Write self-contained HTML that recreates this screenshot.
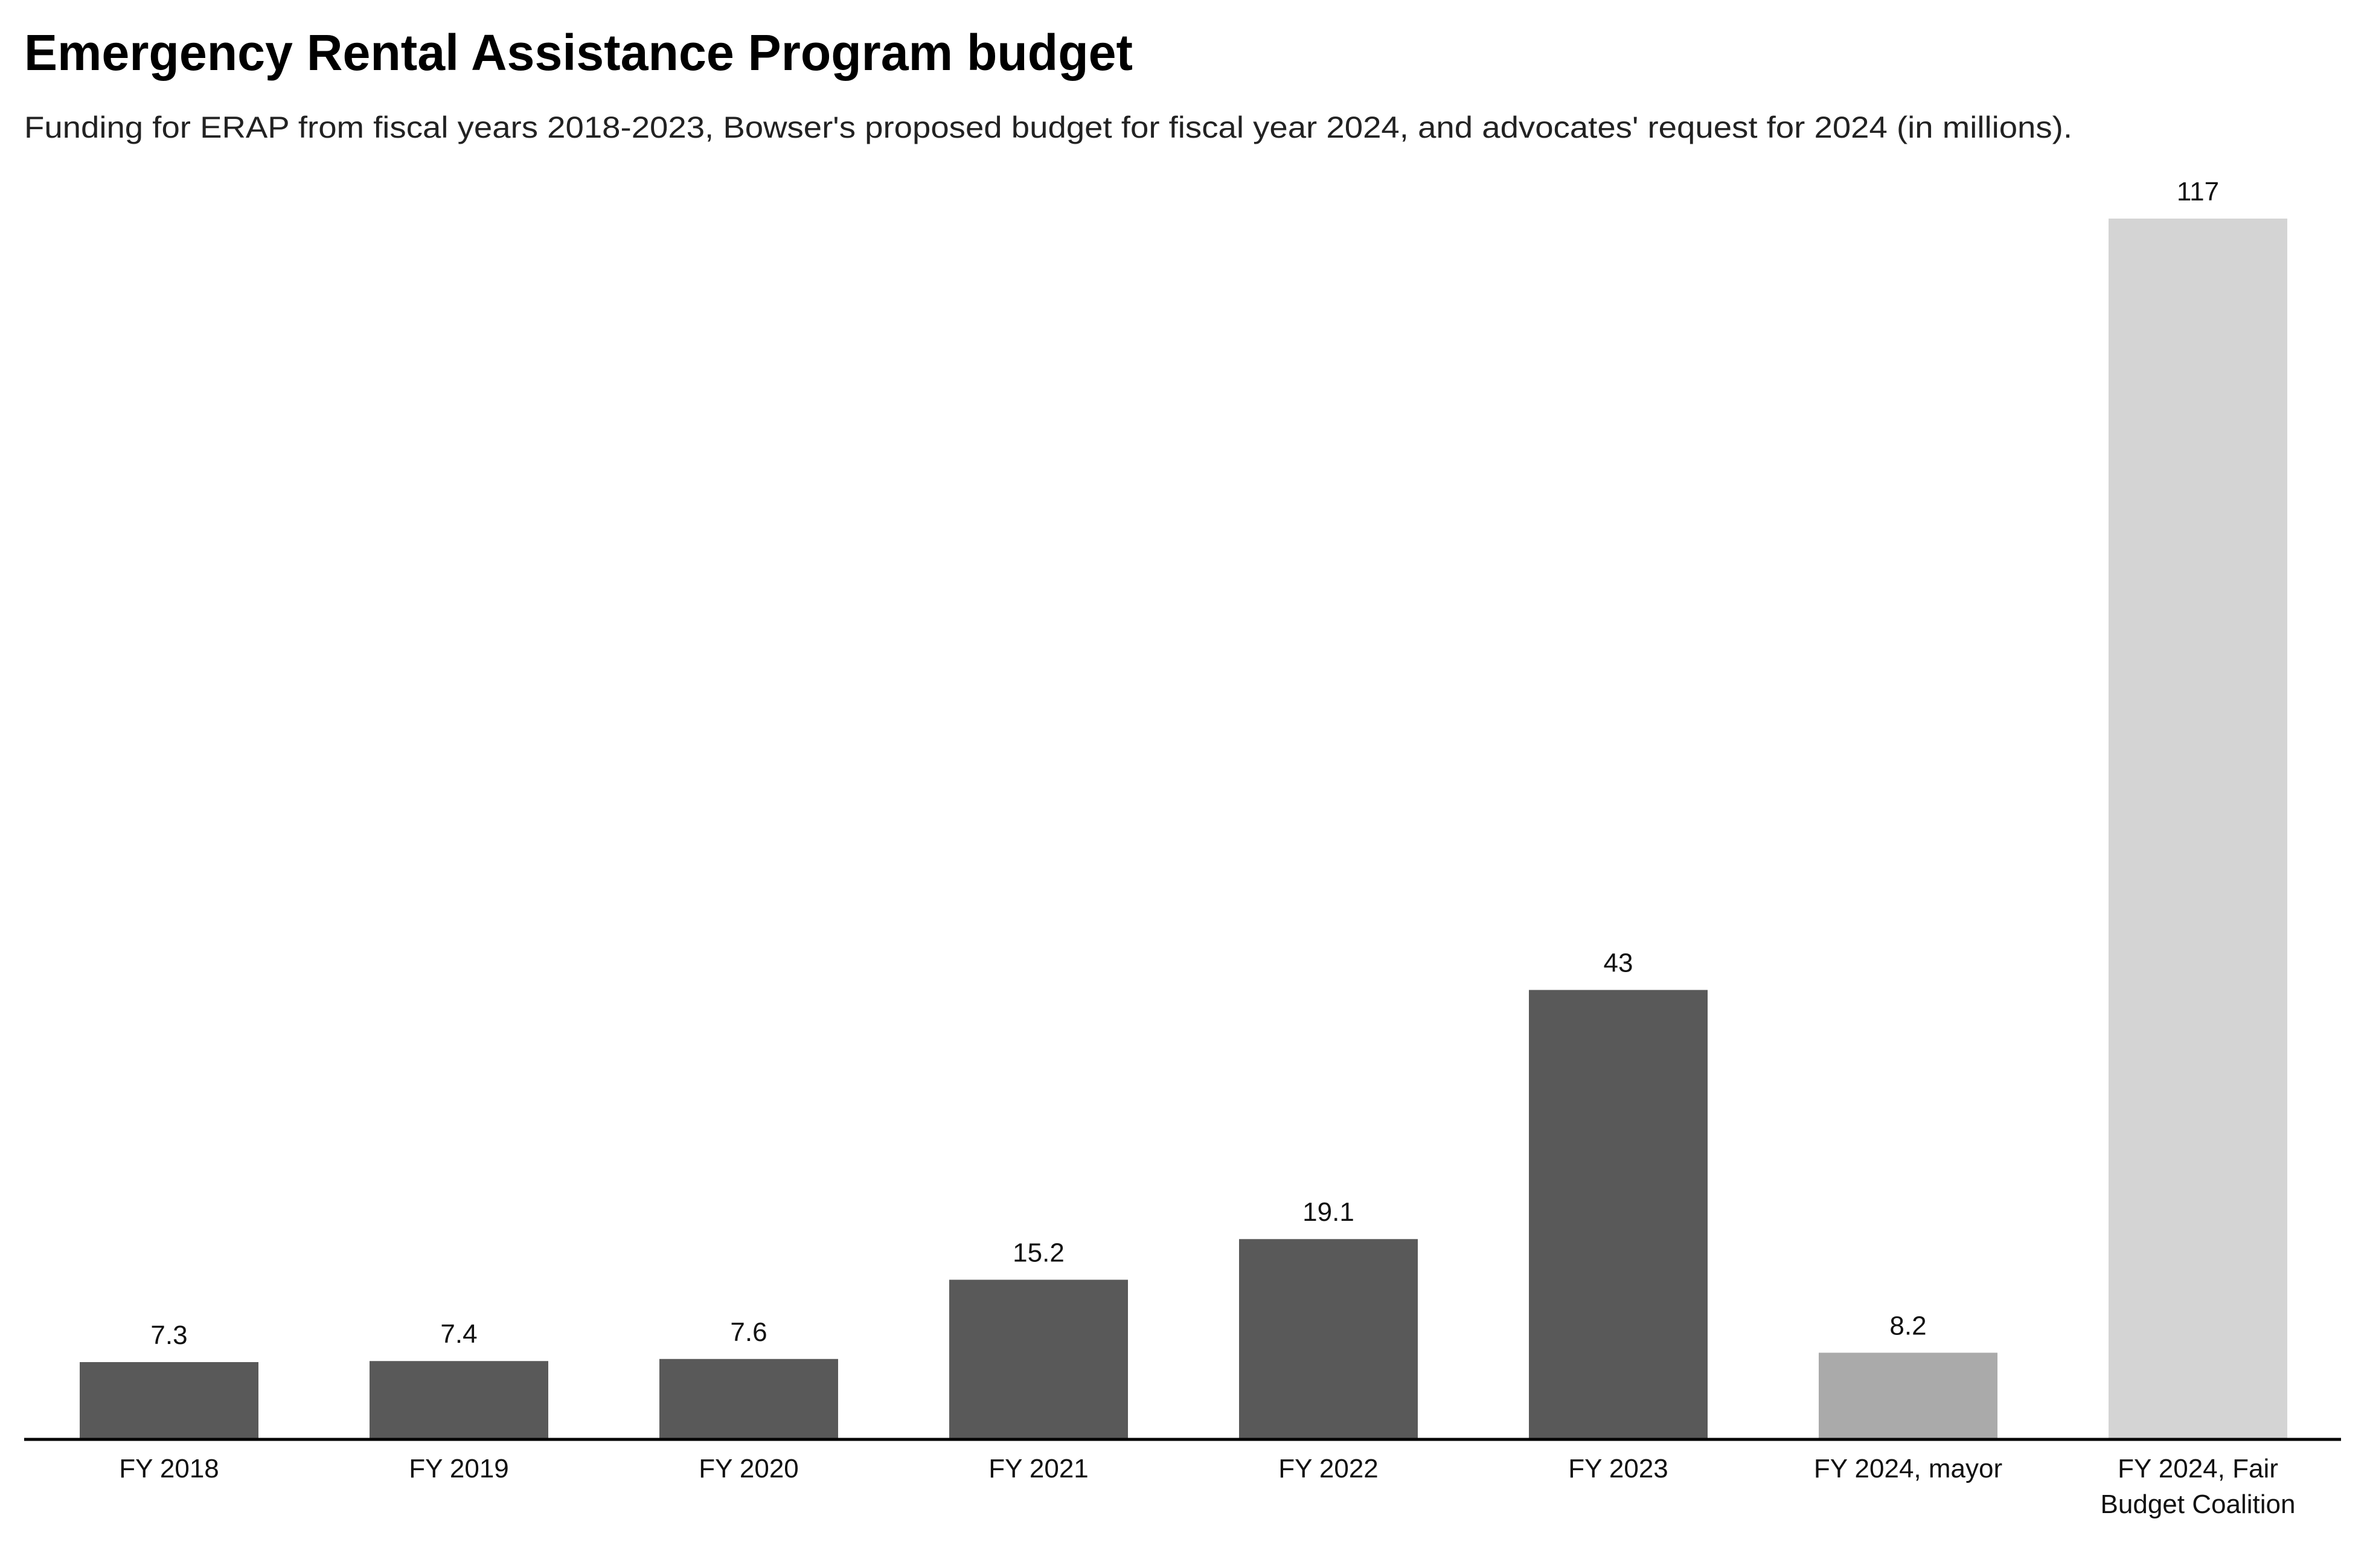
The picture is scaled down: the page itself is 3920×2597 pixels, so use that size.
<!DOCTYPE html>
<html><head><meta charset="utf-8"><style>
html,body{margin:0;padding:0;background:#fff;}
svg{display:block;font-family:"Liberation Sans",Arial,sans-serif;}
</style></head><body>
<svg id="chart" width="3920" height="2597" viewBox="0 0 3920 2597" xmlns="http://www.w3.org/2000/svg">
<text x="40" y="116" font-size="84" font-weight="bold" fill="#000" textLength="1836" lengthAdjust="spacingAndGlyphs">Emergency Rental Assistance Program budget</text>
<text x="40" y="228" font-size="50" fill="#222" textLength="3392" lengthAdjust="spacingAndGlyphs">Funding for ERAP from fiscal years 2018-2023, Bowser's proposed budget for fiscal year 2024, and advocates' request for 2024 (in millions).</text>
<g id="bars"></g>
<line x1="40" y1="2384" x2="3877" y2="2384" stroke="#000" stroke-width="5"/>
</svg>
<script>
const categories = ["FY 2018","FY 2019","FY 2020","FY 2021","FY 2022","FY 2023","FY 2024, mayor","FY 2024, Fair|Budget Coalition"];
const values = [7.3,7.4,7.6,15.2,19.1,43,8.2,117];
const valueLabels = ["7.3","7.4","7.6","15.2","19.1","43","8.2","117"];
const barColors = ["#595959","#595959","#595959","#595959","#595959","#595959","#aaaaaa","#d4d4d4"];

const NS = "http://www.w3.org/2000/svg";
const baseY = 2382, topY = 362, maxV = 117;
const firstCenter = 280, step = 480, barW = 296;
function yScale(v){ return baseY - (v / maxV) * (baseY - topY); }
function xScale(i){ return firstCenter + i * step; }
const g = document.getElementById("bars");
categories.forEach((c, i) => {
  const cx = xScale(i), y = yScale(values[i]);
  const r = document.createElementNS(NS, "rect");
  
  
  r.setAttribute("x", cx - barW / 2);
  r.setAttribute("y", y);
  r.setAttribute("width", barW);
  r.setAttribute("height", baseY - y);
  r.setAttribute("fill", barColors[i]);
  g.appendChild(r);
  const t = document.createElementNS(NS, "text");
  
  
  t.setAttribute("x", cx);
  t.setAttribute("y", y - 30);
  t.setAttribute("text-anchor", "middle");
  t.setAttribute("font-size", "44");
  t.setAttribute("fill", "#111");
  t.textContent = valueLabels[i];
  g.appendChild(t);
  c.split("|").forEach((line, j) => {
    const l = document.createElementNS(NS, "text");
    
    
    l.setAttribute("x", cx);
    l.setAttribute("y", 2447 + j * 59);
    l.setAttribute("text-anchor", "middle");
    l.setAttribute("font-size", "44");
    l.setAttribute("fill", "#111");
    l.textContent = line;
    g.appendChild(l);
  });
});
</script>
</body></html>
